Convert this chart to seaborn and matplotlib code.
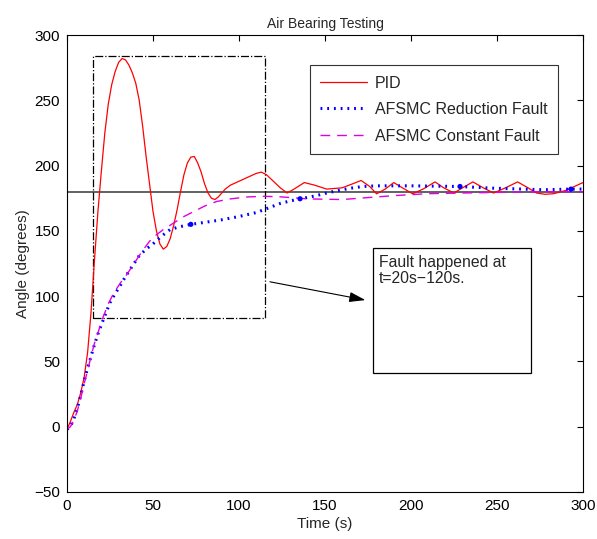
import matplotlib
matplotlib.use("Agg")
import matplotlib.pyplot as plt
import seaborn as sns
from matplotlib.patches import Rectangle

sns.set_theme(style="white")
plt.rcParams['font.family'] = ['Liberation Sans', 'DejaVu Sans']

# ---- data ----
pid_t = [0, 2, 4, 6, 8, 10, 12, 14, 16, 18, 20, 22, 24, 26, 28, 30, 32, 34, 36, 38,
         40, 42, 44, 46, 48, 50, 52, 54, 56, 58, 60, 62, 64, 66, 68, 70, 72, 74, 76,
         78, 80, 82, 84, 86, 88, 90, 92, 95, 100, 105, 110, 113, 116, 120, 124, 128,
         132, 138, 144, 151, 160, 166, 171, 176, 180, 185, 190, 195, 201, 207, 214,
         219, 225, 230, 236, 242, 248, 255, 262, 268, 273, 278, 283, 290, 295, 300]
pid_y = [-2, 4, 11, 17, 26, 38, 57, 88, 128, 165, 196, 225, 247, 262, 272, 279, 282,
         281, 277, 271, 263, 250, 230, 207, 186, 165, 150, 140, 136, 138, 144, 154,
         166, 180, 193, 202, 206.5, 207, 202, 195, 186, 179, 175, 174, 176, 179, 182,
         185, 188, 191, 194, 195, 193, 188, 183, 179, 182, 187, 185, 182, 183, 186,
         188.6, 184, 178.4, 182, 187, 183, 178.4, 182, 187.5, 183, 179, 183, 187.5,
         183, 179, 183, 187.5, 183, 179, 178, 178.5, 181, 184, 187]

red_t = [0, 2, 4, 6, 8, 10, 12, 14, 16, 18, 20, 22, 25, 28, 30, 34, 38, 42, 46, 50,
         55, 60, 65, 72, 80, 90, 100, 110, 118, 124, 130, 136, 145, 151, 158, 165,
         172, 180, 200, 228, 248, 277, 293, 300]
red_y = [-2, 0, 6, 14, 24, 35, 45, 54, 63, 71, 78, 85, 95, 102, 106, 115, 123, 131,
         136, 140, 146, 151, 153, 155, 156.5, 158.5, 161, 164, 168, 171, 173, 174.6,
         177, 179, 181, 182.7, 184, 184.5, 184.5, 184, 182.7, 181.5, 182, 182]
red_dot_t = [72, 135.5, 228.5, 293]
red_dot_y = [155, 174.6, 184, 182]

con_t = [0, 2, 4, 6, 8, 10, 12, 14, 16, 18, 21, 24, 27, 31, 35, 40, 44, 48, 52, 56,
         62, 68, 74, 80, 87, 95, 105, 115, 125, 140, 160, 175, 190, 210, 230, 250,
         275, 300]
con_y = [-2, 0, 5, 12, 22, 33, 43, 54, 64, 72, 84, 94, 102, 110, 117, 127, 135, 142,
         147, 151, 156, 161, 165, 169, 172.5, 174.5, 176, 176.5, 176, 174.5, 174,
         175.5, 177, 178.5, 179, 179.5, 180, 180]

labels = ["PID", "AFSMC Reduction Fault", "AFSMC Constant Fault"]
ref_level = 180
x_ticks = [0, 50, 100, 150, 200, 250, 300]
y_ticks = [-50, 0, 50, 100, 150, 200, 250, 300]

fig = plt.figure(figsize=(5.97, 5.39), dpi=100)
ax = fig.add_axes([0.1122, 0.0872, 0.8643, 0.8478])

sns.lineplot(x=pid_t, y=pid_y, ax=ax, color='red', lw=0.9, label=labels[0],
             sort=False, estimator=None)
sns.lineplot(x=red_t, y=red_y, ax=ax, color='blue', lw=2.2, label=labels[1],
             sort=False, estimator=None, linestyle=(0, (0.6, 1.6)))
sns.scatterplot(x=red_dot_t, y=red_dot_y, ax=ax, color='blue', s=14,
                edgecolor='none', legend=False, zorder=4)
sns.lineplot(x=con_t, y=con_y, ax=ax, color='#e000e0', lw=1.0, label=labels[2],
             sort=False, estimator=None, linestyle=(0, (7, 5)))

ax.axhline(ref_level, color='#555555', lw=1.3, zorder=1)

ax.add_patch(Rectangle((15, 83), 100, 201, fill=False, ls='-.', lw=0.9,
                       edgecolor='black'))
ax.add_patch(Rectangle((178, 41), 92, 96, fill=False, lw=0.9, edgecolor='black'))
ax.text(181.5, 131.5, "Fault happened at\nt=20s\u2212120s.", ha='left', va='top',
        fontsize=11.3, linespacing=1.1)
ax.annotate('', xy=(173.5, 97), xytext=(118, 111),
            arrowprops=dict(arrowstyle='-|>,head_length=0.7,head_width=0.22',
                            color='black', lw=0.8, mutation_scale=14,
                            shrinkA=0, shrinkB=0))

ax.set_xlim(0, 300)
ax.set_ylim(-50, 300)
ax.set_xticks(x_ticks)
ax.set_yticks(y_ticks)
ax.tick_params(direction='in', length=4, width=0.8, top=True, right=True,
               labelsize=11, colors='black', pad=5)
for s in ax.spines.values():
    s.set_color('black')
    s.set_linewidth(0.8)
ax.set_xlabel("Time (s)", fontsize=11, labelpad=3)
ax.set_ylabel("Angle (degrees)", fontsize=11, labelpad=3)
ax.set_title("Air Bearing Testing", fontsize=10, pad=5)

leg = ax.legend(loc='upper left', bbox_to_anchor=(0.471, 0.934), fontsize=11.5,
                frameon=True, fancybox=False, handlelength=2.9, borderpad=0.65,
                labelspacing=0.72, handletextpad=0.5, borderaxespad=0)
leg.get_frame().set_edgecolor('black')
leg.get_frame().set_linewidth(0.8)

fig.savefig("out.png", dpi=100)
